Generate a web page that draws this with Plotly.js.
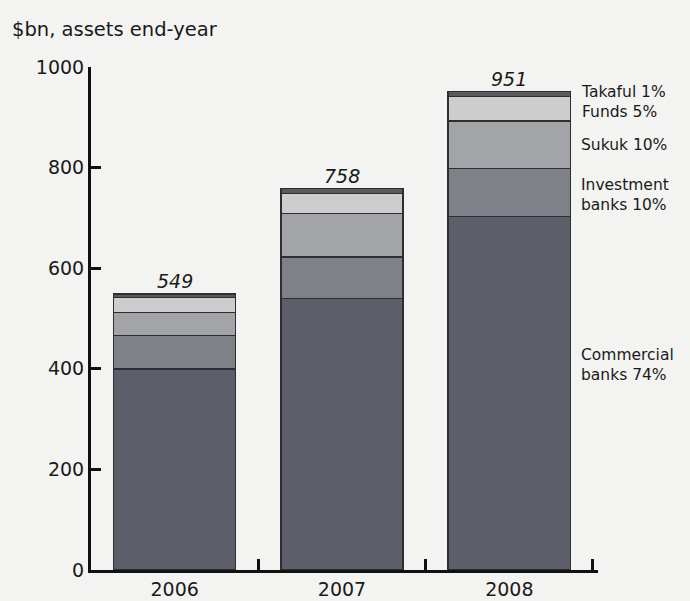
<!DOCTYPE html>
<html>
<head>
<meta charset="utf-8">
<script src="https://cdn.plot.ly/plotly-3.0.1.min.js"></script>
<style>
html,body{margin:0;padding:0;background:#f3f3f1;}
#chart{width:690px;height:601px;}
</style>
</head>
<body>
<div id="chart"></div>
<script>
const years = ["2006", "2007", "2008"];
const totals = [549, 758, 951];
const commercial = [400, 540, 703];
const investment = [66, 82, 95];
const sukuk = [46, 87, 95];
const funds = [30, 40, 48];
const takaful = [7, 9, 10];
const seriesNames = ["Commercial banks 74%", "Investment banks 10%", "Sukuk 10%", "Funds 5%", "Takaful 1%"];
const yTicks = [0, 200, 400, 600, 800, 1000];

const FONT = "DejaVu Sans, Open Sans, sans-serif";
const series = [commercial, investment, sukuk, funds, takaful];
const colors = ["#5c5f6a", "#7f8189", "#a3a4a8", "#cdcdcd", "#5a5a5c"];

const traces = series.map((vals, i) => ({
  type: "bar",
  x: years,
  y: vals,
  name: seriesNames[i],
  marker: {color: colors[i], line: {color: "#2e2e30", width: 1.5}},
  hoverinfo: "skip"
}));

// total labels above each bar (x given as category index)
const annotations = years.map((yr, i) => ({
  x: i, y: totals[i], xref: "x", yref: "y",
  text: "<i>" + totals[i] + "</i>", showarrow: false,
  yanchor: "bottom", yshift: 0,
  font: {family: FONT, size: 19, color: "#1a1a1a"}
}));

// side labels next to the 2008 bar
const last = years.length - 1;
let cum = 0;
const cums = series.map(s => { const lo = cum; cum += s[last]; return [lo, cum]; });
const sideLabels = [
  {text: "Commercial<br>banks 74%", y: 408},
  {text: "Investment<br>banks 10%", y: (cums[1][0] + cums[1][1]) / 2 - 5},
  {text: "Sukuk 10%", y: (cums[2][0] + cums[2][1]) / 2},
  {text: "Takaful 1%<br>Funds 5%", y: cums[4][1] - 20}
];
sideLabels.forEach(l => {
  annotations.push({
    x: 1, xref: "paper", xanchor: "left", xshift: -19,
    y: l.y, yref: "y", yanchor: "middle",
    text: l.text, showarrow: false, align: "left",
    font: {family: FONT, size: 15.5, color: "#1a1a1a"}
  });
});
annotations.push({
  x: 0, xref: "paper", xanchor: "left", xshift: -81,
  y: 1, yref: "paper", yanchor: "bottom", yshift: 24,
  text: "$bn, assets end-year", showarrow: false,
  font: {family: FONT, size: 19.5, color: "#1a1a1a"}
});

const layout = {
  width: 690, height: 601,
  paper_bgcolor: "#f3f3f1", plot_bgcolor: "#f3f3f1",
  margin: {l: 91, r: 92, t: 67, b: 31},
  barmode: "stack",
  bargap: 0.27,
  showlegend: false,
  xaxis: {
    type: "category", range: [-0.5, 2.53],
    showline: true, linecolor: "#111", linewidth: 3,
    ticks: "inside", tickson: "boundaries", ticklen: 11, tickwidth: 3, tickcolor: "#111",
    tickfont: {family: FONT, size: 19, color: "#1a1a1a"},
    showgrid: false, zeroline: false, fixedrange: true
  },
  yaxis: {
    range: [0, 1000], tickvals: yTicks,
    showline: true, linecolor: "#111", linewidth: 3,
    ticks: "inside", ticklen: 10, tickwidth: 3, tickcolor: "#111",
    tickfont: {family: FONT, size: 19, color: "#1a1a1a"},
    showgrid: false, zeroline: false, fixedrange: true
  },
  annotations: annotations
};

Plotly.newPlot("chart", traces, layout, {displayModeBar: false, staticPlot: true});
</script>
</body>
</html>
